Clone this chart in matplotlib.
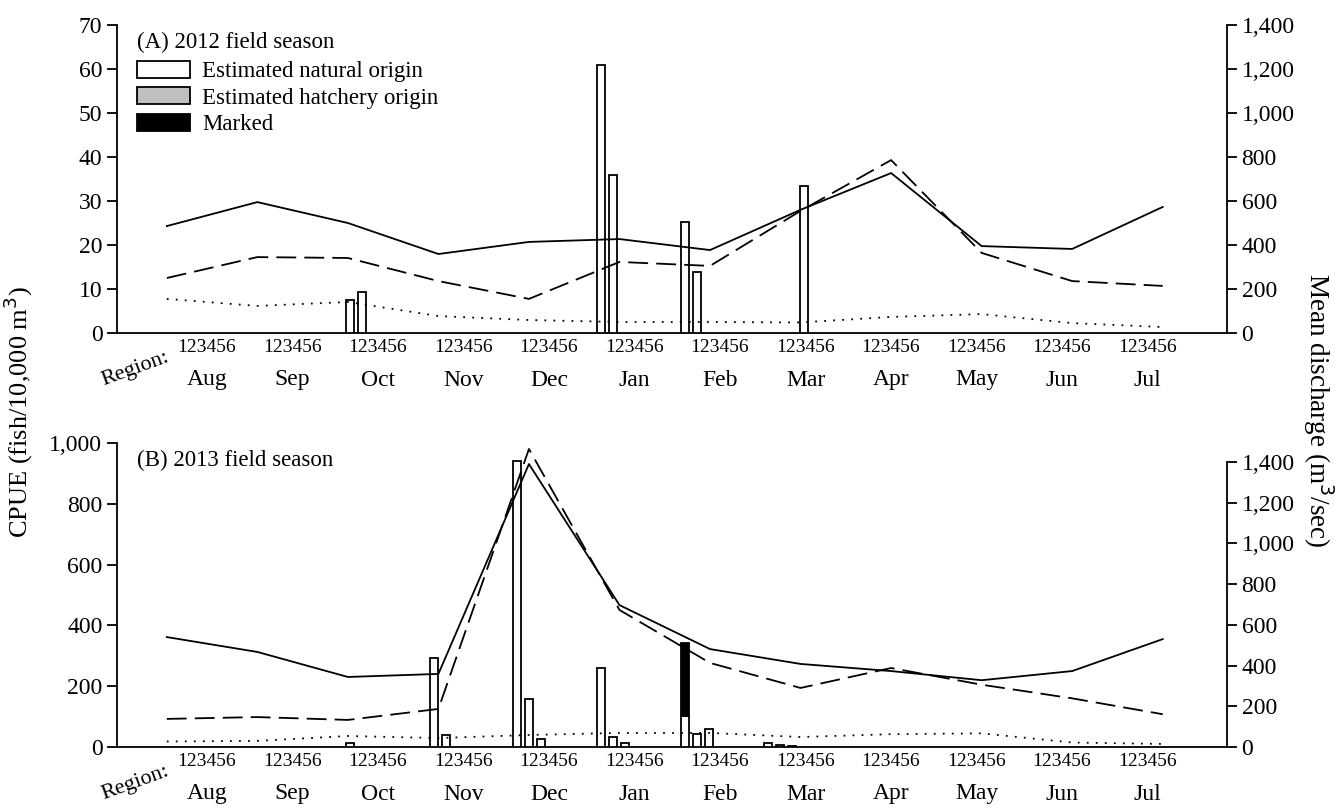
import numpy as np
import matplotlib
matplotlib.use("Agg")
import matplotlib.pyplot as plt
from matplotlib.patches import Patch
from matplotlib.ticker import FuncFormatter

plt.rcParams['font.family'] = ['Liberation Serif', 'DejaVu Serif']

months = ["Aug", "Sep", "Oct", "Nov", "Dec", "Jan", "Feb", "Mar", "Apr", "May", "Jun", "Jul"]
regions = "123456"

# CPUE per month (rows) and region 1-6 (columns)
natural_2012 = [
    [0, 0, 0, 0, 0, 0],
    [0, 0, 0, 0, 0, 0],
    [7.5, 9.3, 0, 0, 0, 0],
    [0, 0, 0, 0, 0, 0],
    [0, 0, 0, 0, 0, 0],
    [61, 36, 0, 0, 0, 0],
    [25.3, 13.8, 0, 0, 0, 0],
    [0, 0, 0, 33.3, 0, 0],
    [0, 0, 0, 0, 0, 0],
    [0, 0, 0, 0, 0, 0],
    [0, 0, 0, 0, 0, 0],
    [0, 0, 0, 0, 0, 0],
]
hatchery_2012 = np.zeros((12, 6))
marked_2012 = np.zeros((12, 6))

natural_2013 = [
    [0, 0, 0, 0, 0, 0],
    [0, 0, 0, 0, 0, 0],
    [12, 0, 0, 0, 0, 0],
    [293, 39, 0, 0, 0, 0],
    [940, 158, 27, 0, 0, 0],
    [260, 33, 13, 0, 0, 0],
    [102, 43, 58, 0, 0, 0],
    [13, 7, 4, 0, 0, 0],
    [0, 0, 0, 0, 0, 0],
    [0, 0, 0, 0, 0, 0],
    [0, 0, 0, 0, 0, 0],
    [0, 0, 0, 0, 0, 0],
]
hatchery_2013 = np.zeros((12, 6))
marked_2013 = np.zeros((12, 6))
marked_2013[6][0] = 240

# mean discharge (m3/sec), one value per month
solid_2012 = [486, 595, 500, 359, 414, 427, 377, 560, 727, 395, 382, 573]
dashed_2012 = [250, 345, 341, 236, 155, 323, 305, 555, 786, 364, 236, 214]
dotted_2012 = [155, 123, 141, 77, 59, 50, 50, 48, 73, 86, 45, 27]

solid_2013 = [540, 467, 344, 359, 1390, 697, 481, 408, 373, 328, 373, 530]
dashed_2013 = [138, 147, 133, 187, 1464, 673, 413, 290, 388, 306, 239, 161]
dotted_2013 = [27, 30, 54, 44, 59, 69, 69, 49, 63, 67, 22, 15]

W, H = 1335, 808
fig = plt.figure(figsize=(W / 100, H / 100), dpi=100)

comma = FuncFormatter(lambda v, p: f"{int(v):,}")


def rect(x0, x1, ytop, ybot):
    return [x0 / W, 1 - ybot / H, (x1 - x0) / W, (ybot - ytop) / H]


def panel(r, natural, hatchery, marked, solid, dashed, dotted,
          ymax, ystep, rmax, title, legend=False):
    ax = fig.add_axes(r)
    natural = np.array(natural, dtype=float)
    hatchery = np.array(hatchery, dtype=float)
    marked = np.array(marked, dtype=float)
    step = 0.1435
    bw = 0.096
    for i in range(12):
        for j in range(6):
            x = i + (j - 2.5) * step
            n, h, m = natural[i, j], hatchery[i, j], marked[i, j]
            if n > 0:
                ax.bar(x, n, width=bw, color="white", edgecolor="black", lw=1.3, zorder=3)
            if h > 0:
                ax.bar(x, h, bottom=n, width=bw, color="#c0c0c0", edgecolor="black", lw=1.3, zorder=3)
            if m > 0:
                ax.bar(x, m, bottom=n + h, width=bw, color="black", edgecolor="black", lw=1.3, zorder=3)
    ax.set_xlim(-1.148, 12.129)
    ax.set_ylim(0, ymax)
    ax.set_yticks(np.arange(0, ymax + 1, ystep))
    ax.yaxis.set_major_formatter(comma)
    ax.set_xticks([])
    for s in ["top", "right"]:
        ax.spines[s].set_visible(False)
    ax.spines["left"].set_linewidth(1.3)
    ax.spines["bottom"].set_linewidth(1.3)
    ax.tick_params(axis="y", direction="out", length=7, width=1.3, labelsize=17)

    # discharge lines on their own axes
    axr = fig.add_axes(r, facecolor="none")
    xs = np.arange(12)
    axr.plot(xs, solid, color="black", lw=1.3)
    axr.plot(xs, dashed, color="black", lw=1.3, ls=(0, (11, 4.5)))
    axr.plot(xs, dotted, color="black", lw=1.3, ls=(0, (1, 4)))
    axr.set_xlim(-0.55, 11.71)
    axr.set_ylim(0, rmax)
    axr.set_yticks(np.arange(0, 1401, 200))
    axr.yaxis.set_major_formatter(comma)
    axr.yaxis.tick_right()
    axr.set_xticks([])
    for s in ["top", "left", "bottom"]:
        axr.spines[s].set_visible(False)
    axr.spines["right"].set_linewidth(1.3)
    axr.spines["right"].set_bounds(0, 1400)
    axr.tick_params(axis="y", direction="out", length=7, width=1.3, labelsize=17)

    # region and month labels
    hgt = r[3] * H
    for i, mname in enumerate(months):
        xf = (207 + 85.5 * i - 117) / 1110
        ax.text(xf, -14 / hgt, regions, transform=ax.transAxes, ha="center", va="center", fontsize=14)
        ax.text(xf, -47 / hgt, mname, transform=ax.transAxes, ha="center", va="center", fontsize=17)
    ax.text(18 / 1110, -36 / hgt, "Region:", transform=ax.transAxes, ha="center", va="center",
            fontsize=16, rotation=20)

    ax.text(0.018, 1 - 17 / hgt, title, transform=ax.transAxes, ha="left", va="center", fontsize=16.5)
    if legend:
        handles = [Patch(facecolor="white", edgecolor="black", lw=1.3),
                   Patch(facecolor="#c0c0c0", edgecolor="black", lw=1.3),
                   Patch(facecolor="black", edgecolor="black", lw=1.3)]
        ax.legend(handles, ["Estimated natural origin", "Estimated hatchery origin", "Marked"],
                  loc="upper left", bbox_to_anchor=(0.018, 1 - 36 / hgt), frameon=False,
                  fontsize=16.5, handlelength=2.3, handleheight=0.75, handletextpad=0.55,
                  labelspacing=0.22, borderpad=0, borderaxespad=0)
    return ax, axr


panel(rect(117, 1227, 25, 333), natural_2012, hatchery_2012, marked_2012,
      solid_2012, dashed_2012, dotted_2012, 70, 10, 1400, "(A) 2012 field season", legend=True)
panel(rect(117, 1227, 443, 747), natural_2013, hatchery_2013, marked_2013,
      solid_2013, dashed_2013, dotted_2013, 1000, 200, 1400 * 304 / 285, "(B) 2013 field season")

fig.text(18 / W, 1 - 412 / H, "CPUE (fish/10,000 m$^3$)", rotation=90, ha="center", va="center", fontsize=19)
fig.text(1318 / W, 1 - 410 / H, "Mean discharge (m$^3$/sec)", rotation=270, ha="center", va="center", fontsize=19.5)

fig.savefig("out.png", dpi=100)
